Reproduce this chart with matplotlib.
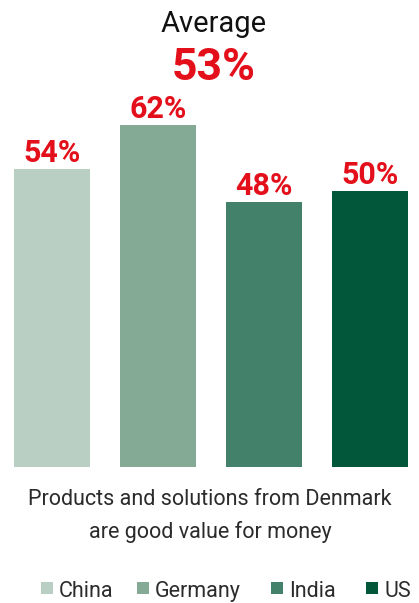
import matplotlib
matplotlib.use("Agg")
import matplotlib.pyplot as plt
from matplotlib.patches import Rectangle

countries = ["China", "Germany", "India", "US"]
values = [54, 62, 48, 50]
average = 53
title_word = "Average"
statement_lines = ["Products and solutions from Denmark", "are good value for money"]

bar_colors = ["#b9cfc4", "#84aa96", "#43816a", "#02573a"]
red = "#e3101b"
text_dark = "#2b2b2b"

plt.rcParams["font.family"] = ["Roboto", "DejaVu Sans"]

W, H = 419, 603
fig = plt.figure(figsize=(W / 100, H / 100), dpi=100)

# axes in pixel units: bars sit on y=467 px from top
bottom_px = H - 467
ymax = 70
px_per_unit = 5.52
ax_h = ymax * px_per_unit
ax_left = -0.5
ax_w = 423
ax = fig.add_axes([ax_left / W, bottom_px / H, ax_w / W, ax_h / H])
x = range(len(values))
bars = ax.bar(x, values, width=0.72, color=bar_colors)
ax.set_xlim(-0.5, 3.5)
ax.set_ylim(0, ymax)
ax.axis("off")

for b, v in zip(bars, values):
    ax.annotate(f"{v}%", (b.get_x() + b.get_width() / 2, v),
                xytext=(0, 7), textcoords="offset pixels",
                ha="center", va="baseline", color=red,
                fontsize=22, fontweight="bold")

fig.text(214 / W, 1 - 32 / H, title_word, ha="center", va="baseline",
         fontsize=21, color="#111111")
fig.text(214 / W, 1 - 80 / H, f"{average}%", ha="center", va="baseline",
         fontsize=32, fontweight="bold", color=red)

for line, base in zip(statement_lines, [505, 538]):
    fig.text(210 / W, 1 - base / H, line, ha="center", va="baseline",
             fontsize=15.5, color=text_dark)

# legend row: square swatch followed by the country name
legend_x = [41, 137, 271, 366]
for lx, name, c in zip(legend_x, countries, bar_colors):
    fig.add_artist(Rectangle((lx / W, 1 - 594 / H), 12 / W, 12 / H,
                             transform=fig.transFigure, color=c, lw=0))
    fig.text((lx + 18) / W, 1 - 597 / H, name, ha="left", va="baseline",
             fontsize=15.5, color=text_dark)

fig.savefig("out.png", dpi=100)
